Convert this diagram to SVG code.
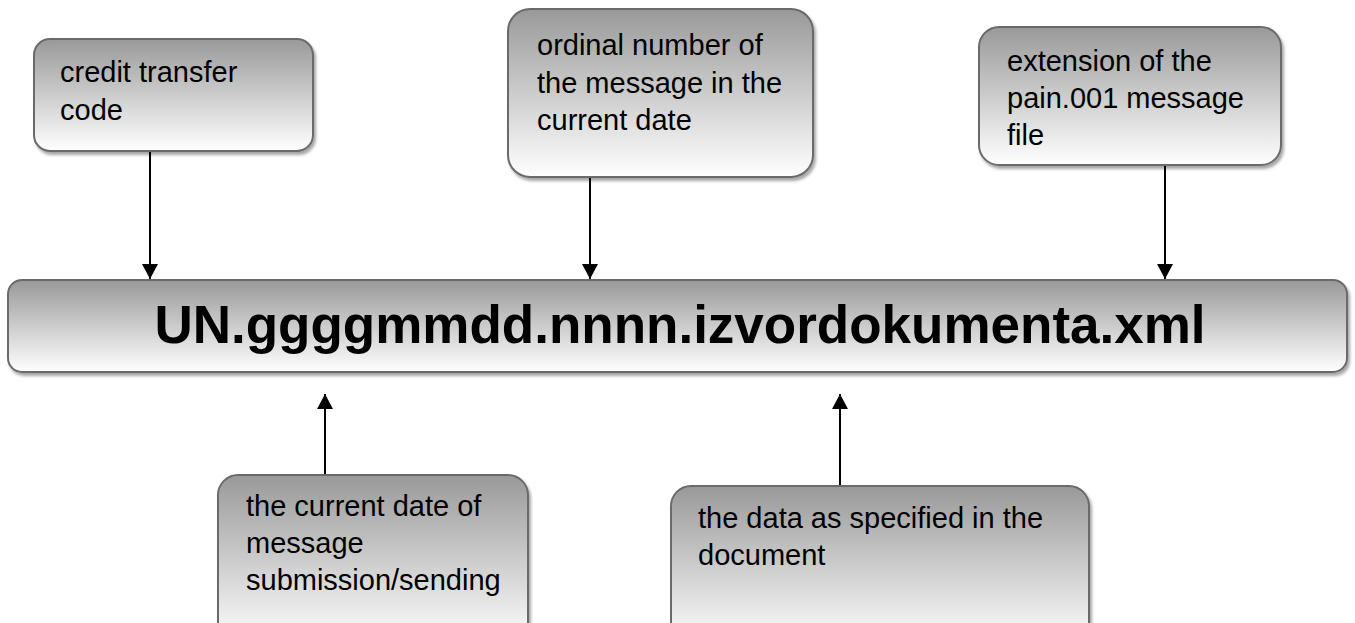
<svg xmlns="http://www.w3.org/2000/svg" width="1355" height="623" viewBox="0 0 1355 623">
<defs>
<linearGradient id="g" x1="0" y1="0" x2="0" y2="1">
<stop offset="0" stop-color="#999999"/>
<stop offset="1" stop-color="#ffffff"/>
</linearGradient>
<filter id="sh" x="-5%" y="-5%" width="110%" height="115%">
<feDropShadow dx="2" dy="3" stdDeviation="1.5" flood-color="#000" flood-opacity="0.35"/>
</filter>
<marker id="ah2" viewBox="0 0 15 16" refX="15" refY="8" markerWidth="15" markerHeight="16" markerUnits="userSpaceOnUse" orient="auto">
<path d="M0,0 L15,8 L0,16 z" fill="#000"/>
</marker>
</defs>
<style>
.box{fill:url(#g);stroke:#6b6b6b;stroke-width:2;filter:url(#sh)}
.t{font-family:"Liberation Sans",Arial,sans-serif;font-size:29px;fill:#000}
.m{font-family:"Liberation Sans",Arial,sans-serif;font-size:53px;font-weight:bold;fill:#000}
.c{stroke:#000;stroke-width:2;fill:none;marker-end:url(#ah2)}
</style>
<g id="connectors">
<line class="c" x1="150" y1="151" x2="150" y2="279"/>
<line class="c" x1="590" y1="177" x2="590" y2="279"/>
<line class="c" x1="1165" y1="137" x2="1165" y2="279"/>
<line class="c" x1="325" y1="475" x2="325" y2="394"/>
<line class="c" x1="840" y1="485" x2="840" y2="394"/>
</g>
<g id="node-credit">
<rect class="box" x="34" y="39" width="279" height="112" rx="16"/>
<text class="t" x="60" y="82">credit transfer</text>
<text class="t" x="60" y="120">code</text>
</g>
<g id="node-ordinal">
<rect class="box" x="508" y="9" width="305" height="168" rx="22"/>
<text class="t" x="537" y="55">ordinal number of</text>
<text class="t" x="537" y="93">the message in the</text>
<text class="t" x="537" y="130">current date</text>
</g>
<g id="node-extension">
<rect class="box" x="979" y="27" width="302" height="138" rx="20"/>
<text class="t" x="1007" y="71">extension of the</text>
<text class="t" x="1007" y="108">pain.001 message</text>
<text class="t" x="1007" y="145">file</text>
</g>
<g id="node-main">
<rect class="box" x="8" y="280" width="1339" height="92" rx="14"/>
<text class="m" x="680" y="343" text-anchor="middle">UN.ggggmmdd.nnnn.izvordokumenta.xml</text>
</g>
<g id="node-date">
<rect class="box" x="218" y="475" width="310" height="170" rx="20"/>
<text class="t" x="246" y="516">the current date of</text>
<text class="t" x="246" y="553">message</text>
<text class="t" x="246" y="590">submission/sending</text>
</g>
<g id="node-data">
<rect class="box" x="671" y="486" width="418" height="160" rx="20"/>
<text class="t" x="698" y="528">the data as specified in the</text>
<text class="t" x="698" y="565">document</text>
</g>
</svg>
